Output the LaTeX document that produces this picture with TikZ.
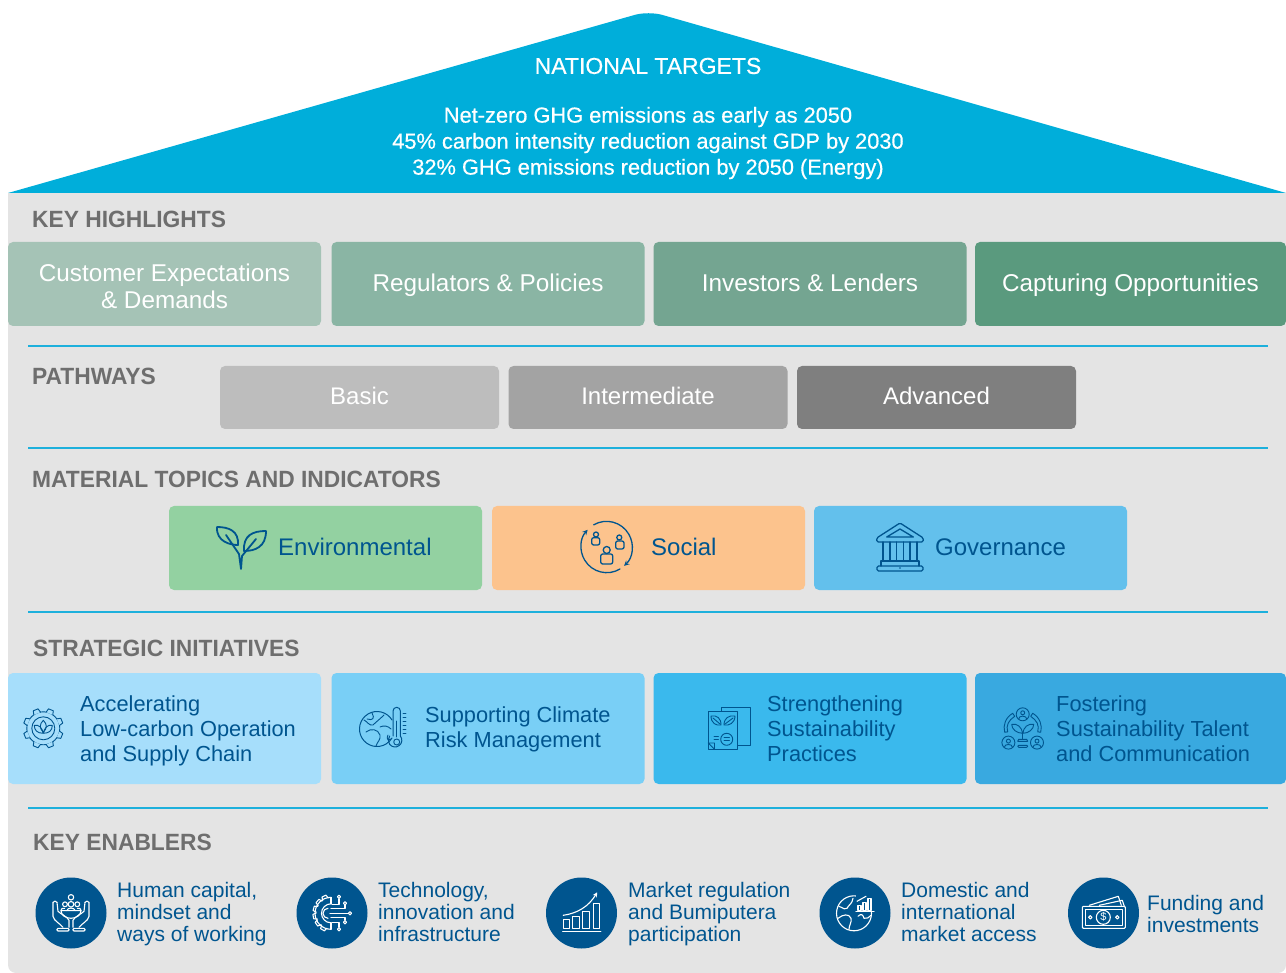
\documentclass[tikz,border=0pt]{standalone}
\usepackage{tikz}
\usepackage{xcolor}
\usepackage{fontspec}
\setmainfont{Liberation Sans}
\newfontfamily\headfont[FakeStretch=0.97]{Liberation Sans}
\newfontfamily\rooffont[FakeBold=0.5]{Liberation Sans}
\usetikzlibrary{shapes.geometric, arrows}
\definecolor{roofblue}{HTML}{00AEDA}
\definecolor{bodygray}{HTML}{E4E4E4}
\definecolor{headgray}{HTML}{6E6E6E}
\definecolor{rulecol}{HTML}{1DB0DC}
\definecolor{navy}{HTML}{00558F}
\definecolor{highA}{HTML}{A5C3B6}
\definecolor{highB}{HTML}{8AB5A4}
\definecolor{highC}{HTML}{74A591}
\definecolor{highD}{HTML}{5A9A7E}
\definecolor{pathA}{HTML}{BDBDBD}
\definecolor{pathB}{HTML}{A3A3A3}
\definecolor{pathC}{HTML}{7F7F7F}
\definecolor{topicA}{HTML}{93D1A1}
\definecolor{topicB}{HTML}{FCC38D}
\definecolor{topicC}{HTML}{63C0EC}
\definecolor{initA}{HTML}{A6DEFB}
\definecolor{initB}{HTML}{79CFF6}
\definecolor{initC}{HTML}{3AB9ED}
\definecolor{initD}{HTML}{39A9E0}
\tikzstyle{heading} = [anchor=west, inner sep=0pt, text=headgray, font=\headfont\bfseries\fontsize{23.5}{26}\selectfont]
\tikzstyle{rulerline} = [rulecol, line width=1.6pt]
\tikzstyle{highbox} = [rectangle, rounded corners=5pt, minimum width=313pt, minimum height=84pt, inner sep=0pt, align=center, text=white, font=\fontsize{24.3}{27}\selectfont]
\tikzstyle{oneline} = [text height=19.5pt, text depth=5pt]
\tikzstyle{pathbox} = [rectangle, rounded corners=5pt, minimum width=279pt, minimum height=63pt, inner sep=0pt, text=white, font=\fontsize{24}{27}\selectfont]
\tikzstyle{topicbox} = [rectangle, rounded corners=5pt, minimum width=313pt, minimum height=84pt, inner sep=0pt]
\tikzstyle{topictext} = [anchor=west, inner sep=0pt, text=navy, font=\fontsize{24}{27}\selectfont]
\tikzstyle{initbox} = [rectangle, rounded corners=5pt, minimum width=313pt, minimum height=111pt, inner sep=0pt]
\tikzstyle{inittext} = [anchor=west, inner sep=0pt, align=left, text=navy, font=\fontsize{21.8}{25}\selectfont]
\tikzstyle{enablerdot} = [circle, minimum size=71pt, inner sep=0pt, fill=navy]
\tikzstyle{enablertext} = [anchor=west, inner sep=0pt, align=left, text=navy, font=\fontsize{21}{22}\selectfont]
\tikzstyle{iconline} = [navy, line width=1.3pt, line join=round, line cap=round]
\tikzstyle{thinline} = [navy, line width=0.9pt, line join=round, line cap=round]
\tikzstyle{whiteline} = [white, line width=1.1pt, line join=round, line cap=round]
\tikzset{
  pics/sprout/.style={code={
    \draw[iconline, line width=1.8pt] (-24,-20) .. controls (-12,-20) and (-2,-16) .. (-3,-2) .. controls (-10,-2) and (-25,-5) .. (-24,-20);
    \draw[iconline, line width=1.8pt] (25,-16) .. controls (12,-16) and (2,-12) .. (3,4) .. controls (14,4) and (25,0) .. (25,-16);
    \draw[iconline, line width=1.8pt] (-15,-12) -- (-2,7) -- (0,22) -- (1,9) -- (15,-8);
  }},
  pics/people/.style={code={
    \draw[iconline, ->, >=stealth] (13.3,22) arc[start angle=59, end angle=222, radius=25.7];
    \draw[iconline, ->, >=stealth] (-13,-22.2) arc[start angle=240, end angle=407, radius=25.7];
    \draw[iconline] (0,3) circle (3.5);
    \draw[iconline, rounded corners=2pt] (-6,17) rectangle (6,7);
    \draw[iconline] (-10.7,-12.5) circle (2.5);
    \draw[iconline, rounded corners=2pt] (-15,-2) rectangle (-7,-9.3);
    \draw[iconline] (12.6,-9.5) circle (2.5);
    \draw[iconline, rounded corners=2pt] (9,2) rectangle (17.3,-6);
  }},
  pics/temple/.style={code={
    \draw[iconline, rounded corners=1.5pt] (-23.3,-9) -- (0,-24) -- (23.3,-9) -- (23.3,-5) -- (-23.3,-5) -- cycle;
    \draw[iconline] (-13.3,-10) -- (0,-18) -- (13.3,-10) -- cycle;
    \draw[iconline] (-17,-5) -- (-17,14) (-10,-5) -- (-10,14) (-3.5,-5) -- (-3.5,14) (3.5,-5) -- (3.5,14) (10,-5) -- (10,14) (17,-5) -- (17,14);
    \draw[iconline] (-19,19) -- (-19,14) -- (19,14) -- (19,19);
    \draw[iconline, rounded corners=1.5pt] (-23,19) rectangle (23,24);
    \fill[navy] (0,21) circle (0.9);
  }},
  pics/leafgear/.style={code={
    \draw[thinline] (0,0) circle (16.5);
    \draw[thinline] (0,0) circle (11.5);
    \foreach \a in {22.5,67.5,...,337.5}
      \draw[thinline, fill=initA, rotate=\a] (16,-3.6) -- (20,-2.6) -- (20,2.6) -- (16,3.6);
    \draw[thinline] (0,-8) .. controls (4,-4) and (4,0) .. (0,4) .. controls (-4,0) and (-4,-4) .. (0,-8);
    \draw[thinline] (-9,-3) .. controls (-4,-4) and (-1,0) .. (0,5) .. controls (-6,5) and (-9,2) .. (-9,-3);
    \draw[thinline] (9,-3) .. controls (4,-4) and (1,0) .. (0,5) .. controls (6,5) and (9,2) .. (9,-3);
  }},
  pics/warmglobe/.style={code={
    \draw[iconline, line width=1pt] (9,-9) arc[start angle=-31, end angle=-329, radius=17.5];
    \draw[thinline] (-19,-9) .. controls (-15,-7) and (-14,-3) .. (-10,-4) .. controls (-7,-7) and (-3,-10) .. (1,-14);
    \draw[thinline] (-11,-16) .. controls (-8,-11) and (-10,-8) .. (-16,-10);
    \draw[thinline] (-17,3) .. controls (-12,-1) and (-5,0) .. (-3,6) .. controls (-2,11) and (-6,13) .. (-7,17);
    \draw[thinline] (-3,-2) .. controls (1,-4) and (5,-3) .. (8,0);
    \draw[thinline] (5,6) .. controls (3,10) and (5,12) .. (8,10);
    \draw[iconline, line width=1pt] (10,7) -- (10,-18) arc[start angle=180, end angle=360, radius=3.7] -- (17.4,7) arc[start angle=-38, end angle=218, radius=6.8];
    \draw[thinline] (13.7,-8) -- (13.7,8);
    \draw[thinline] (13.7,13) circle (3);
    \foreach \b in {-16,-12,...,4}
      \draw[thinline] (20,\b) -- (23,\b);
  }},
  pics/leafpage/.style={code={
    \draw[thinline] (-7.3,-20.7) rectangle (21,17);
    \draw[thinline, fill=initC] (-20.7,-16.3) rectangle (8.7,21.3);
    \draw[thinline] (-20.7,15) -- (-14.5,21.3) (-20.7,15) -- (-14.5,15) -- (-14.5,21.3);
    \draw[thinline] (-18,-12) .. controls (-12,-13) and (-8,-10) .. (-8,-3) .. controls (-13,-2) and (-18,-5) .. (-18,-12);
    \draw[thinline] (6,-12) .. controls (0,-13) and (-5,-10) .. (-5,-3) .. controls (0,-2) and (6,-5) .. (6,-12);
    \draw[thinline] (-16,-10) -- (-9,-4) (4,-10) -- (-4,-4);
    \draw[thinline] (-2.3,11.3) circle (6);
    \draw[thinline] (-5,9.8) -- (0.4,9.8) (-5,12.8) -- (0.4,12.8);
    \draw[thinline] (-15,8) -- (-10.5,8) (-15,11) -- (-10.5,11);
  }},
  pics/talent/.style={code={
    \draw[thinline] (0,-14) circle (6.5);
    \draw[thinline] (0,-15.5) circle (2) (-4,-9.5) .. controls (-4,-13) and (4,-13) .. (4,-9.5);
    \draw[thinline] (-14.3,14.3) circle (6.5);
    \draw[thinline] (-14.3,12.8) circle (2) (-18.3,18.8) .. controls (-18.3,15.3) and (-10.3,15.3) .. (-10.3,18.8);
    \draw[thinline] (14.3,14.3) circle (6.5);
    \draw[thinline] (14.3,12.8) circle (2) (10.3,18.8) .. controls (10.3,15.3) and (18.3,15.3) .. (18.3,18.8);
    \draw[thinline] (-10,-15) .. controls (-17,-11) and (-20,-3) .. (-18,4) -- (-15,3.5) .. controls (-17,-3) and (-14,-8) .. (-8,-12) -- cycle;
    \draw[thinline] (10,-15) .. controls (17,-11) and (20,-3) .. (18,4) -- (15,3.5) .. controls (17,-3) and (14,-8) .. (8,-12) -- cycle;
    \draw[thinline] (-11,-4) .. controls (-5,-5) and (-1,-1) .. (0,5) .. controls (-6,5) and (-11,1) .. (-11,-4);
    \draw[thinline] (11,-4) .. controls (5,-5) and (1,-1) .. (0,5) .. controls (6,5) and (11,1) .. (11,-4);
    \draw[thinline] (0,5) -- (0,11);
    \draw[thinline] (-5,13) -- (-4,11) -- (4,11) -- (5,13) -- cycle;
    \draw[thinline, rounded corners=1pt] (-5,17) rectangle (5,19);
  }},
  pics/handsicon/.style={code={
    \foreach \s in {-1,1} {
      \begin{scope}[xscale=\s]
        \draw[whiteline] (18,-11) -- (18,3) .. controls (17,8) and (11,10) .. (8,14);
        \draw[whiteline] (14,-11) -- (13,-2) .. controls (10,1) and (4,3) .. (2,7) -- (2,14);
        \draw[whiteline] (14,-11) .. controls (15,-12.5) and (17,-12.5) .. (18,-11);
        \draw[whiteline, rounded corners=1pt] (2,15) rectangle (14,17.7);
        \draw[whiteline] (6.3,-5) .. controls (9,-5.5) and (10,-4.5) .. (10,-2.7);
      \end{scope}
    }
    \draw[whiteline] (-10,-2.7) -- (10,-2.7) .. controls (10,2) and (5,5) .. (0,5) .. controls (-5,5) and (-10,2) .. (-10,-2.7);
    \draw[whiteline] (0,-16) circle (2.7);
    \draw[whiteline] (-6,-9) circle (2.4);
    \draw[whiteline] (6.3,-9) circle (2.4);
    \draw[whiteline] (0,-9) circle (2.8);
    \draw[whiteline] (-4,-2.7) .. controls (-4,-6) and (4,-6) .. (4,-2.7);
  }},
  pics/chipgear/.style={code={
    \draw[whiteline] (-1,-16) arc[start angle=270, end angle=90, radius=16];
    \draw[whiteline] (-1,-9.5) arc[start angle=270, end angle=90, radius=9.5];
    \foreach \a in {115,140,...,245}
      \draw[whiteline, rotate=\a] (15.5,-3) -- (19,-2.2) -- (19,2.2) -- (15.5,3);
    \draw[whiteline] (-4,-5) arc[start angle=270, end angle=90, radius=5];
    \draw[whiteline] (-1,-16) -- (-1,-9.5) (-1,9.5) -- (-1,16);
    \draw[whiteline] (0,-9) -- (7,-9) -- (7,-14.5);
    \draw[whiteline] (-1,-4.5) -- (13,-4.5) -- (13,-8);
    \draw[whiteline] (-2,0) -- (16,0);
    \draw[whiteline] (-1,4.5) -- (13,4.5) -- (13,7);
    \draw[whiteline] (0,9) -- (7,9) -- (7,14);
    \foreach \p/\q in {7/-16.5,13/-10,18/0,13/9,7/16}
      \draw[whiteline] (\p,\q) circle (1.6);
  }},
  pics/chartup/.style={code={
    \draw[whiteline] (-18.5,6.5) rectangle (-12.5,15);
    \draw[whiteline] (-9,3) rectangle (-2.5,15);
    \draw[whiteline] (1,-2) rectangle (7.5,15);
    \draw[whiteline] (11.5,-10) rectangle (17.5,15);
    \draw[whiteline, line width=1.4pt] (-19,18) -- (19,18);
    \draw[whiteline, ->, >=stealth] (-18.5,2) .. controls (-4,0) and (7,-7) .. (15.5,-21);
  }},
  pics/globechart/.style={code={
    \draw[whiteline] (-1,0) circle (17.5);
    \draw[whiteline] (-16,-7) .. controls (-11,-5) and (-10,-3) .. (-8,-5) .. controls (-6,-9) and (-3,-9) .. (-2,-15);
    \draw[whiteline] (-17,5) .. controls (-12,1) and (-6,0) .. (-4,5) .. controls (-3,9) and (-6,12) .. (-6,16);
    \draw[whiteline] (3,3) .. controls (6,0) and (8,1) .. (9,5) .. controls (12,6) and (14,4) .. (16,2);
    \fill[navy] (1,-19) rectangle (20,-2);
    \draw[whiteline] (3,-8) rectangle (6,-3);
    \draw[whiteline] (8,-11) rectangle (11,-3);
    \draw[whiteline] (13,-15) rectangle (16,-3);
    \draw[whiteline] (1,-1.5) -- (19,-1.5);
    \draw[whiteline] (2,-12) -- (11,-17);
  }},
  pics/banknote/.style={code={
    \draw[whiteline] (-14,-8) -- (15,-17) -- (18,-8);
    \draw[whiteline] (-4,-8) -- (19,-13) -- (21,-7);
    \draw[whiteline, rounded corners=1pt] (-21,-7) rectangle (22,15);
    \draw[whiteline] (-18,-4) rectangle (19,12);
    \draw[whiteline] (0,4) circle (7);
    \draw[whiteline] (-13,4) circle (1.7);
    \draw[whiteline] (14,4) circle (1.7);
    \node (dollarsign) [text=white, inner sep=0pt, font=\fontsize{11}{11}\selectfont] at (0,4) {\$};
  }},
}

\begin{document}
\begin{tikzpicture}[x=1pt, y=-1pt]
    \useasboundingbox (0,0) rectangle (1286,973);
    % house
    \fill[bodygray] (8,193) [rounded corners=8pt] -- (8,973) -- (1286,973) [sharp corners] -- (1286,193) -- cycle;
    \fill[roofblue] (8,193) [rounded corners=14pt] -- (648.5,11) [sharp corners] -- (1286,193) -- cycle;
    \node (roofhead) [inner sep=0pt, text=white, font=\rooffont\fontsize{23}{26}\selectfont] at (648,66) {NATIONAL TARGETS};
    \node (rooftext) [inner sep=0pt, align=center, text=white, font=\rooffont\fontsize{21.8}{26}\selectfont] at (648,143) {Net-zero GHG emissions as early as 2050\\45\% carbon intensity reduction against GDP by 2030\\32\% GHG emissions reduction by 2050 (Energy)};

    % key highlights
    \node (headhigh) [heading] at (32,219) {KEY HIGHLIGHTS};
    \node (high1) [highbox, fill=highA] at (164.5,284) {};
    \node (hightext1) [inner sep=0pt, align=center, text=white, font=\fontsize{24.3}{27}\selectfont] at (164.5,286) {Customer Expectations\\\& Demands};
    \node (high2) [highbox, oneline, fill=highB, node distance=323.5pt, right of = high1]{Regulators \& Policies};
    \node (high3) [highbox, oneline, fill=highC, node distance=322pt, right of = high2]{Investors \& Lenders};
    \node (high4) [highbox, oneline, fill=highD, minimum width=311pt, node distance=320.5pt, right of = high3]{Capturing Opportunities};
    \coordinate (rule1a) at (28,346);
    \coordinate (rule1b) at (1268,346);
    \draw[rulerline] (rule1a) -- (rule1b);

    % pathways
    \node (headpath) [heading] at (32,376) {PATHWAYS};
    \node (path1) [pathbox, oneline, fill=pathA] at (359.5,397.5) {Basic};
    \node (path2) [pathbox, oneline, fill=pathB, node distance=288.5pt, right of = path1]{Intermediate};
    \node (path3) [pathbox, oneline, fill=pathC, node distance=288.5pt, right of = path2]{Advanced};
    \coordinate (rule2a) at (28,448);
    \coordinate (rule2b) at (1268,448);
    \draw[rulerline] (rule2a) -- (rule2b);

    % material topics
    \node (headtopic) [heading] at (32,479) {MATERIAL TOPICS AND INDICATORS};
    \node (topic1) [topicbox, fill=topicA] at (325.5,548) {};
    \node (topic2) [topicbox, fill=topicB, node distance=323pt, right of = topic1]{};
    \node (topic3) [topicbox, fill=topicC, node distance=322pt, right of = topic2]{};
    \pic at (241,547) {sprout};
    \pic at (606.7,547) {people};
    \pic at (900,547) {temple};
    \node (topictext1) [topictext] at (278,547) {Environmental};
    \node (topictext2) [topictext] at (651,547) {Social};
    \node (topictext3) [topictext] at (935,547) {Governance};
    \coordinate (rule3a) at (28,612);
    \coordinate (rule3b) at (1268,612);
    \draw[rulerline] (rule3a) -- (rule3b);

    % strategic initiatives
    \node (headinit) [heading] at (33,648) {STRATEGIC INITIATIVES};
    \node (init1) [initbox, fill=initA] at (164.5,728.5) {};
    \node (init2) [initbox, fill=initB, node distance=323.5pt, right of = init1]{};
    \node (init3) [initbox, fill=initC, node distance=322pt, right of = init2]{};
    \node (init4) [initbox, fill=initD, minimum width=311pt, node distance=320.5pt, right of = init3]{};
    \pic at (43.3,728.3) {leafgear};
    \pic at (383,729) {warmglobe};
    \pic at (729,728) {leafpage};
    \pic at (1022.7,728.3) {talent};
    \node (inittext1) [inittext] at (80,731) {Accelerating\\Low-carbon Operation\\and Supply Chain};
    \node (inittext2) [inittext] at (425,729.5) {Supporting Climate\\Risk Management};
    \node (inittext3) [inittext] at (767,729) {Strengthening\\Sustainability\\Practices};
    \node (inittext4) [inittext] at (1056,729) {Fostering\\Sustainability Talent\\and Communication};
    \coordinate (rule4a) at (28,808);
    \coordinate (rule4b) at (1268,808);
    \draw[rulerline] (rule4a) -- (rule4b);

    % key enablers
    \node (headenable) [heading] at (33,842) {KEY ENABLERS};
    \node (dot1) [enablerdot] at (71,913) {};
    \node (dot2) [enablerdot] at (332,913) {};
    \node (dot3) [enablerdot] at (581.5,913) {};
    \node (dot4) [enablerdot] at (855,913) {};
    \node (dot5) [enablerdot] at (1103.5,913) {};
    \pic at (71,913.3) {handsicon};
    \pic at (332,913.3) {chipgear};
    \pic at (581.7,913.3) {chartup};
    \pic at (855,913.3) {globechart};
    \pic at (1103.3,913.3) {banknote};
    \node (enabletext1) [enablertext] at (117,914) {Human capital,\\mindset and\\ways of working};
    \node (enabletext2) [enablertext] at (378,912) {Technology,\\innovation and\\infrastructure};
    \node (enabletext3) [enablertext] at (628,914) {Market regulation\\and Bumiputera\\participation};
    \node (enabletext4) [enablertext] at (901,912) {Domestic and\\international\\market access};
    \node (enabletext5) [enablertext] at (1147,914) {Funding and\\investments};
\end{tikzpicture}
\end{document}
